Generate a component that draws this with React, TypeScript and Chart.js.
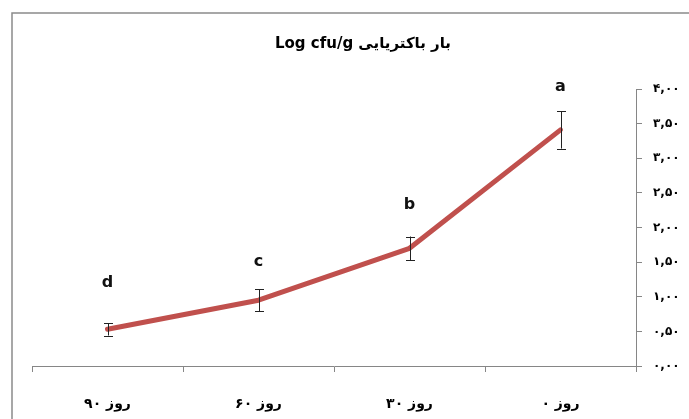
import React, { useEffect, useRef } from "react";
import { Chart, registerables } from "chart.js";

Chart.register(...registerables);

const titleText = "بار باکتریایی Log cfu/g";
const categories = ["روز ۰", "روز ۳۰", "روز ۶۰", "روز ۹۰"];
const values = [3.41, 1.7, 0.95, 0.53];
const errors = [0.27, 0.17, 0.16, 0.09];
const letters = ["a", "b", "c", "d"];
const letterLevels = [4.03, 2.32, 1.5, 1.2];
const yTicks = [0, 0.5, 1, 1.5, 2, 2.5, 3, 3.5, 4];

const faDigits = "۰۱۲۳۴۵۶۷۸۹";
const toFa = (v: number) =>
  v
    .toFixed(2)
    .replace(".", ",")
    .replace(/[0-9]/g, (d) => faDigits[Number(d)]);

const FONT = "'DejaVu Sans', 'Noto Sans', sans-serif";

export default function App() {
  const ref = useRef<HTMLCanvasElement | null>(null);
  useEffect(() => {
    if (!ref.current) return;
    const framePlugin = {
      id: "frame",
      beforeDraw(chart: any) {
        const ctx = chart.ctx;
        ctx.save();
        ctx.fillStyle = "#ffffff";
        ctx.fillRect(0, 0, chart.width, chart.height);
        ctx.strokeStyle = "#8a8a8a";
        ctx.lineWidth = 1.5;
        ctx.strokeRect(12, 13, chart.width + 20, chart.height + 20);
        ctx.font = `bold 15px ${FONT}`;
        ctx.fillStyle = "#000";
        ctx.textAlign = "center";
        ctx.textBaseline = "middle";
        (ctx as any).direction = "rtl";
        ctx.fillText(titleText, 363, 44);
        ctx.restore();
      },
    };
    const errPlugin = {
      id: "errs",
      afterDatasetsDraw(chart: any) {
        const ctx = chart.ctx;
        const xs = chart.scales.x;
        const ys = chart.scales.y;
        ctx.save();
        ctx.strokeStyle = "#222";
        ctx.lineWidth = 1;
        values.forEach((v, i) => {
          const x = Math.round(xs.getPixelForValue(i)) + 0.5;
          const t = ys.getPixelForValue(v + errors[i]);
          const b = ys.getPixelForValue(v - errors[i]);
          ctx.beginPath();
          ctx.moveTo(x, t);
          ctx.lineTo(x, b);
          ctx.moveTo(x - 4.5, Math.round(t) + 0.5);
          ctx.lineTo(x + 4.5, Math.round(t) + 0.5);
          ctx.moveTo(x - 4.5, Math.round(b) + 0.5);
          ctx.lineTo(x + 4.5, Math.round(b) + 0.5);
          ctx.stroke();
        });
        ctx.font = `bold 16px ${FONT}`;
        ctx.fillStyle = "#111";
        ctx.textAlign = "center";
        ctx.textBaseline = "middle";
        letters.forEach((l, i) => {
          ctx.fillText(l, xs.getPixelForValue(i), ys.getPixelForValue(letterLevels[i]));
        });
        ctx.restore();
      },
    };
    const chart = new Chart(ref.current, {
      type: "line",
      data: {
        labels: categories,
        datasets: [
          {
            data: values,
            borderColor: "#C0504D",
            borderWidth: 5,
            pointRadius: 0,
            tension: 0,
            borderCapStyle: "round",
            borderJoinStyle: "round",
          },
        ],
      },
      options: {
        responsive: false,
        animation: false,
        layout: { padding: { left: 32, top: 89, right: 0, bottom: 0 } },
        plugins: {
          legend: { display: false },
          tooltip: { enabled: false },
          title: { display: false },
        },
        scales: {
          x: {
            reverse: true,
            offset: true,
            afterFit: (s: any) => {
              s.height = 53;
            },
            grid: {
              drawOnChartArea: false,
              drawTicks: true,
              tickLength: 6,
              color: "#868686",
              offset: true,
            },
            border: { color: "#868686", width: 1 },
            ticks: {
              color: "#000",
              padding: 24,
              font: { family: FONT, size: 14, weight: "bold" },
              maxRotation: 0,
            },
          },
          y: {
            position: "right",
            min: 0,
            max: 4,
            afterFit: (s: any) => {
              s.width = 53;
            },
            afterBuildTicks: (s: any) => {
              s.ticks = yTicks.map((v) => ({ value: v }));
            },
            grid: {
              drawOnChartArea: false,
              drawTicks: true,
              tickLength: 6,
              color: "#868686",
            },
            border: { color: "#868686", width: 1 },
            ticks: {
              color: "#000",
              padding: 11,
              font: { family: FONT, size: 12, weight: "bold" },
              callback: (v: any) => toFa(Number(v)),
            },
          },
        },
      },
      plugins: [framePlugin, errPlugin],
    } as any);
    return () => chart.destroy();
  }, []);
  return (
    <div style={{ position: "absolute", left: 0, top: 0, width: 689, height: 419 }}>
      <canvas ref={ref} width={689} height={419} />
    </div>
  );
}
